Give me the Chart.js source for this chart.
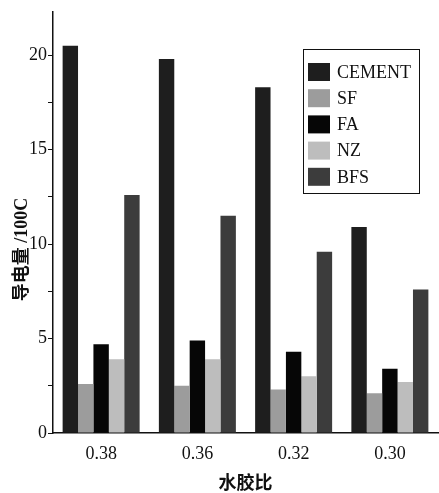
<!DOCTYPE html>
<html lang="zh-CN">
<head>
  <meta charset="UTF-8">
  <title>导电量 - 水胶比</title>
  <script src="https://cdn.jsdelivr.net/npm/chart.js"></script>
  <style>
    body { margin: 0; background: #fff; }
    canvas { display: block; }
  </style>
</head>
<body>
  <canvas id="grafico" width="439" height="493"></canvas>

  <script>
    // dados
    const categorias = ['0.38', '0.36', '0.32', '0.30'];
    const cement = [20.5, 19.8, 18.3, 10.9];
    const sf = [2.6, 2.5, 2.3, 2.1];
    const fa = [4.7, 4.9, 4.3, 3.4];
    const nz = [3.9, 3.9, 3.0, 2.7];
    const bfs = [12.6, 11.5, 9.6, 7.6];

    // legenda desenhada dentro da área do gráfico, com moldura
    const legendaCaixa = {
      id: 'legendaCaixa',
      afterDraw(chart) {
        const ctx = chart.ctx;
        const x0 = 303, y0 = 49, w = 116, h = 144;
        ctx.save();
        ctx.strokeStyle = '#111';
        ctx.lineWidth = 1;
        ctx.strokeRect(x0 + 0.5, y0 + 0.5, w, h);
        ctx.font = '18px "Liberation Serif", serif';
        ctx.textBaseline = 'middle';
        chart.data.datasets.forEach((ds, i) => {
          const cy = 72 + i * 26.2;
          ctx.fillStyle = ds.backgroundColor;
          ctx.fillRect(x0 + 5, cy - 9, 22, 18);
          ctx.fillStyle = '#111';
          ctx.fillText(ds.label, x0 + 34, cy + 1);
        });
        ctx.restore();
      }
    };

    const ctx = document.getElementById('grafico').getContext('2d');
    new Chart(ctx, {
      type: 'bar',
      data: {
        labels: categorias,
        datasets: [
          { label: 'CEMENT', data: cement, backgroundColor: '#1e1e1e' },
          { label: 'SF', data: sf, backgroundColor: '#9c9c9c' },
          { label: 'FA', data: fa, backgroundColor: '#060606' },
          { label: 'NZ', data: nz, backgroundColor: '#bdbdbd' },
          { label: 'BFS', data: bfs, backgroundColor: '#3c3c3c' }
        ]
      },
      options: {
        responsive: false,
        animation: false,
        layout: { padding: { top: 10, right: 1, left: 0, bottom: 0 } },
        datasets: {
          bar: { categoryPercentage: 0.8, barPercentage: 1.0 }
        },
        plugins: {
          legend: { display: false },
          tooltip: { enabled: false }
        },
        scales: {
          x: {
            grid: { display: false },
            border: { display: true, color: '#111', width: 1.5 },
            ticks: {
              color: '#111',
              padding: 2,
              font: { family: '"Liberation Serif", serif', size: 18 }
            },
            title: {
              display: true,
              text: '水胶比',
              color: '#111',
              padding: { top: 0, bottom: 0 },
              font: { family: '"Noto Sans CJK SC", sans-serif', size: 18, weight: 'bold' }
            },
            afterFit(scale) { scale.height = 60; }
          },
          y: {
            min: 0,
            max: 22.3,
            border: { display: true, color: '#111', width: 1.5 },
            grid: {
              drawOnChartArea: false,
              drawTicks: true,
              tickLength: 5,
              color: '#111'
            },
            ticks: {
              stepSize: 2.5,
              color: '#111',
              padding: 1,
              font: { family: '"Liberation Serif", serif', size: 18 },
              callback: v => (v % 5 === 0 ? v : '')
            },
            afterBuildTicks(scale) {
              scale.ticks = scale.ticks.filter(t => t.value % 2.5 === 0);
            },
            title: {
              display: true,
              // espaços ideográficos no fim para descer o texto como no original
              text: '导电量 /100C\u3000\u3000\u3000',
              color: '#111',
              padding: { top: 12, bottom: 0 },
              font: { family: '"Liberation Serif", "Noto Sans CJK SC", serif', size: 18, weight: 'bold' }
            },
            afterFit(scale) { scale.width = 53; }
          }
        }
      },
      plugins: [legendaCaixa]
    });
  </script>
</body>
</html>
